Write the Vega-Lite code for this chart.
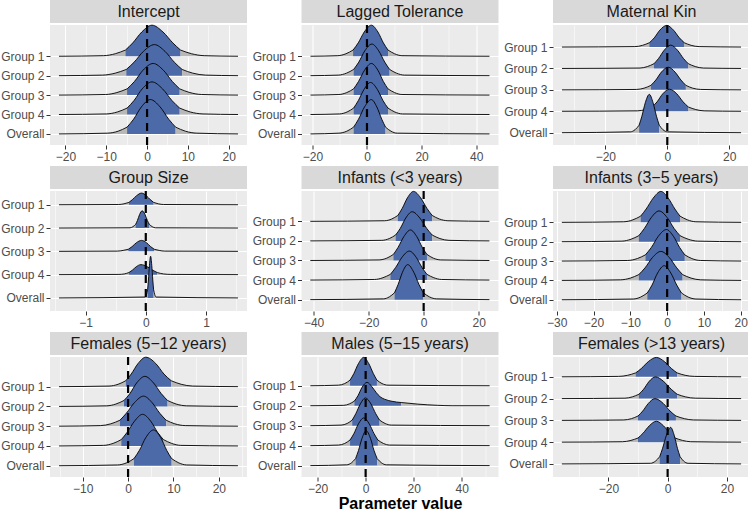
{
"$schema":"https://vega.github.io/schema/vega-lite/v6.json",
"padding":0,
"config":{"font":"Liberation Sans","view":{"fill":"#EBEBEB","stroke":null},
"axis":{"labelFontSize":12,"labelColor":"#4D4D4D","tickColor":"#333333","tickSize":4,"domain":false,"gridColor":"#FFFFFF","labelPadding":2,"labelFlush":false,"labelOverlap":false,"titleFontSize":16,"titleFontWeight":"bold","titleColor":"#000000","titlePadding":1},
"area":{"interpolate":"monotone"},
"line":{"interpolate":"monotone","color":"#000000","strokeWidth":0.9},
"rule":{"strokeDash":[8,6],"strokeWidth":2.2,"color":"#000000"},
"text":{"fontSize":16,"color":"#1A1A1A"}},
"datasets":{
"p1":[
{"k":4,"s":"L","x":-21.6,"y":4},{"k":4,"s":"L","x":-10.7,"y":4.03},{"k":4,"s":"L","x":-7.8,"y":4.13},{"k":4,"s":"L","x":-5.3,"y":4.32},{"k":4,"s":"C","x":-5.3,"y":4.32},{"k":4,"s":"C","x":-3.5,"y":4.69},{"k":4,"s":"C","x":-1.3,"y":5.25},{"k":4,"s":"C","x":1.2,"y":5.6},{"k":4,"s":"C","x":3.9,"y":5.25},{"k":4,"s":"C","x":6.3,"y":4.69},{"k":4,"s":"C","x":8.2,"y":4.32},{"k":4,"s":"R","x":8.2,"y":4.32},{"k":4,"s":"R","x":10.9,"y":4.13},{"k":4,"s":"R","x":14.0,"y":4.03},{"k":4,"s":"R","x":22.3,"y":4},
{"k":3,"s":"L","x":-21.6,"y":3},{"k":3,"s":"L","x":-10.9,"y":3.03},{"k":3,"s":"L","x":-7.8,"y":3.13},{"k":3,"s":"L","x":-5.1,"y":3.32},{"k":3,"s":"C","x":-5.1,"y":3.32},{"k":3,"s":"C","x":-3.2,"y":3.69},{"k":3,"s":"C","x":-0.9,"y":4.25},{"k":3,"s":"C","x":1.8,"y":4.6},{"k":3,"s":"C","x":4.4,"y":4.25},{"k":3,"s":"C","x":6.7,"y":3.69},{"k":3,"s":"C","x":8.6,"y":3.32},{"k":3,"s":"R","x":8.6,"y":3.32},{"k":3,"s":"R","x":11.2,"y":3.13},{"k":3,"s":"R","x":14.3,"y":3.03},{"k":3,"s":"R","x":22.3,"y":3},
{"k":2,"s":"L","x":-21.6,"y":2},{"k":2,"s":"L","x":-10.2,"y":2.03},{"k":2,"s":"L","x":-7.4,"y":2.13},{"k":2,"s":"L","x":-4.9,"y":2.32},{"k":2,"s":"C","x":-4.9,"y":2.32},{"k":2,"s":"C","x":-3.1,"y":2.7},{"k":2,"s":"C","x":-1.0,"y":3.28},{"k":2,"s":"C","x":1.5,"y":3.63},{"k":2,"s":"C","x":4.0,"y":3.28},{"k":2,"s":"C","x":6.2,"y":2.7},{"k":2,"s":"C","x":8.0,"y":2.32},{"k":2,"s":"R","x":8.0,"y":2.32},{"k":2,"s":"R","x":10.5,"y":2.13},{"k":2,"s":"R","x":13.4,"y":2.03},{"k":2,"s":"R","x":22.3,"y":2},
{"k":1,"s":"L","x":-21.6,"y":1},{"k":1,"s":"L","x":-10.0,"y":1.03},{"k":1,"s":"L","x":-7.3,"y":1.13},{"k":1,"s":"L","x":-4.9,"y":1.33},{"k":1,"s":"C","x":-4.9,"y":1.33},{"k":1,"s":"C","x":-3.2,"y":1.72},{"k":1,"s":"C","x":-1.2,"y":2.32},{"k":1,"s":"C","x":1.2,"y":2.68},{"k":1,"s":"C","x":3.8,"y":2.32},{"k":1,"s":"C","x":6.1,"y":1.72},{"k":1,"s":"C","x":8.0,"y":1.33},{"k":1,"s":"R","x":8.0,"y":1.33},{"k":1,"s":"R","x":10.6,"y":1.13},{"k":1,"s":"R","x":13.7,"y":1.03},{"k":1,"s":"R","x":22.3,"y":1},
{"k":0,"s":"L","x":-21.6,"y":0},{"k":0,"s":"L","x":-9.7,"y":0.04},{"k":0,"s":"L","x":-7.1,"y":0.14},{"k":0,"s":"L","x":-4.9,"y":0.35},{"k":0,"s":"C","x":-4.9,"y":0.35},{"k":0,"s":"C","x":-3.3,"y":0.76},{"k":0,"s":"C","x":-1.4,"y":1.39},{"k":0,"s":"C","x":0.8,"y":1.77},{"k":0,"s":"C","x":3.2,"y":1.39},{"k":0,"s":"C","x":5.3,"y":0.76},{"k":0,"s":"C","x":7.0,"y":0.35},{"k":0,"s":"R","x":7.0,"y":0.35},{"k":0,"s":"R","x":9.4,"y":0.14},{"k":0,"s":"R","x":12.2,"y":0.04},{"k":0,"s":"R","x":22.3,"y":0}
],
"p2":[
{"k":4,"s":"L","x":-20.7,"y":4},{"k":4,"s":"L","x":-10.7,"y":4.03},{"k":4,"s":"L","x":-7.7,"y":4.13},{"k":4,"s":"L","x":-5.1,"y":4.32},{"k":4,"s":"C","x":-5.1,"y":4.32},{"k":4,"s":"C","x":-3.2,"y":4.69},{"k":4,"s":"C","x":-1.0,"y":5.25},{"k":4,"s":"C","x":1.6,"y":5.6},{"k":4,"s":"C","x":4.0,"y":5.25},{"k":4,"s":"C","x":6.0,"y":4.69},{"k":4,"s":"C","x":7.7,"y":4.32},{"k":4,"s":"R","x":7.7,"y":4.32},{"k":4,"s":"R","x":10.1,"y":4.13},{"k":4,"s":"R","x":12.8,"y":4.03},{"k":4,"s":"R","x":44.9,"y":4},
{"k":3,"s":"L","x":-20.7,"y":3},{"k":3,"s":"L","x":-10.5,"y":3.03},{"k":3,"s":"L","x":-7.5,"y":3.13},{"k":3,"s":"L","x":-4.9,"y":3.32},{"k":3,"s":"C","x":-4.9,"y":3.32},{"k":3,"s":"C","x":-3.0,"y":3.7},{"k":3,"s":"C","x":-0.8,"y":4.28},{"k":3,"s":"C","x":1.8,"y":4.63},{"k":3,"s":"C","x":4.3,"y":4.28},{"k":3,"s":"C","x":6.5,"y":3.7},{"k":3,"s":"C","x":8.3,"y":3.32},{"k":3,"s":"R","x":8.3,"y":3.32},{"k":3,"s":"R","x":10.8,"y":3.13},{"k":3,"s":"R","x":13.7,"y":3.03},{"k":3,"s":"R","x":44.9,"y":3},
{"k":2,"s":"L","x":-20.7,"y":2},{"k":2,"s":"L","x":-10.3,"y":2.03},{"k":2,"s":"L","x":-7.4,"y":2.13},{"k":2,"s":"L","x":-4.9,"y":2.32},{"k":2,"s":"C","x":-4.9,"y":2.32},{"k":2,"s":"C","x":-3.1,"y":2.7},{"k":2,"s":"C","x":-0.9,"y":3.28},{"k":2,"s":"C","x":1.6,"y":3.63},{"k":2,"s":"C","x":4.0,"y":3.28},{"k":2,"s":"C","x":6.0,"y":2.7},{"k":2,"s":"C","x":7.7,"y":2.32},{"k":2,"s":"R","x":7.7,"y":2.32},{"k":2,"s":"R","x":10.1,"y":2.13},{"k":2,"s":"R","x":12.8,"y":2.03},{"k":2,"s":"R","x":44.9,"y":2},
{"k":1,"s":"L","x":-20.7,"y":1},{"k":1,"s":"L","x":-10.1,"y":1.03},{"k":1,"s":"L","x":-7.3,"y":1.13},{"k":1,"s":"L","x":-4.9,"y":1.33},{"k":1,"s":"C","x":-4.9,"y":1.33},{"k":1,"s":"C","x":-3.2,"y":1.71},{"k":1,"s":"C","x":-1.1,"y":2.29},{"k":1,"s":"C","x":1.3,"y":2.65},{"k":1,"s":"C","x":3.8,"y":2.29},{"k":1,"s":"C","x":5.9,"y":1.71},{"k":1,"s":"C","x":7.7,"y":1.33},{"k":1,"s":"R","x":7.7,"y":1.33},{"k":1,"s":"R","x":10.2,"y":1.13},{"k":1,"s":"R","x":13.0,"y":1.03},{"k":1,"s":"R","x":44.9,"y":1},
{"k":0,"s":"L","x":-20.7,"y":0},{"k":0,"s":"L","x":-10.3,"y":0.04},{"k":0,"s":"L","x":-7.4,"y":0.14},{"k":0,"s":"L","x":-4.9,"y":0.35},{"k":0,"s":"C","x":-4.9,"y":0.35},{"k":0,"s":"C","x":-3.1,"y":0.76},{"k":0,"s":"C","x":-0.9,"y":1.39},{"k":0,"s":"C","x":1.6,"y":1.77},{"k":0,"s":"C","x":3.6,"y":1.39},{"k":0,"s":"C","x":5.4,"y":0.76},{"k":0,"s":"C","x":6.8,"y":0.35},{"k":0,"s":"R","x":6.8,"y":0.35},{"k":0,"s":"R","x":8.8,"y":0.14},{"k":0,"s":"R","x":11.1,"y":0.04},{"k":0,"s":"R","x":44.9,"y":0}
],
"p3":[
{"k":4,"s":"L","x":-34.0,"y":4},{"k":4,"s":"L","x":-10.5,"y":4.02},{"k":4,"s":"L","x":-8.0,"y":4.08},{"k":4,"s":"L","x":-5.8,"y":4.2},{"k":4,"s":"C","x":-5.8,"y":4.2},{"k":4,"s":"C","x":-4.2,"y":4.43},{"k":4,"s":"C","x":-2.4,"y":4.79},{"k":4,"s":"C","x":-0.2,"y":5.01},{"k":4,"s":"C","x":2.0,"y":4.79},{"k":4,"s":"C","x":3.9,"y":4.43},{"k":4,"s":"C","x":5.5,"y":4.2},{"k":4,"s":"R","x":5.5,"y":4.2},{"k":4,"s":"R","x":7.7,"y":4.08},{"k":4,"s":"R","x":10.3,"y":4.02},{"k":4,"s":"R","x":23.8,"y":4},
{"k":3,"s":"L","x":-34.0,"y":3},{"k":3,"s":"L","x":-8.8,"y":3.02},{"k":3,"s":"L","x":-6.4,"y":3.09},{"k":3,"s":"L","x":-4.3,"y":3.22},{"k":3,"s":"C","x":-4.3,"y":3.22},{"k":3,"s":"C","x":-2.8,"y":3.47},{"k":3,"s":"C","x":-1.0,"y":3.85},{"k":3,"s":"C","x":1.1,"y":4.09},{"k":3,"s":"C","x":3.3,"y":3.85},{"k":3,"s":"C","x":5.2,"y":3.47},{"k":3,"s":"C","x":6.8,"y":3.22},{"k":3,"s":"R","x":6.8,"y":3.22},{"k":3,"s":"R","x":9.0,"y":3.09},{"k":3,"s":"R","x":11.6,"y":3.02},{"k":3,"s":"R","x":23.8,"y":3},
{"k":2,"s":"L","x":-34.0,"y":2},{"k":2,"s":"L","x":-10.0,"y":2.02},{"k":2,"s":"L","x":-7.5,"y":2.08},{"k":2,"s":"L","x":-5.3,"y":2.21},{"k":2,"s":"C","x":-5.3,"y":2.21},{"k":2,"s":"C","x":-3.7,"y":2.46},{"k":2,"s":"C","x":-1.9,"y":2.83},{"k":2,"s":"C","x":0.3,"y":3.06},{"k":2,"s":"C","x":2.5,"y":2.83},{"k":2,"s":"C","x":4.4,"y":2.46},{"k":2,"s":"C","x":6.0,"y":2.21},{"k":2,"s":"R","x":6.0,"y":2.21},{"k":2,"s":"R","x":8.2,"y":2.08},{"k":2,"s":"R","x":10.8,"y":2.02},{"k":2,"s":"R","x":23.8,"y":2},
{"k":1,"s":"L","x":-34.0,"y":1},{"k":1,"s":"L","x":-9.6,"y":1.02},{"k":1,"s":"L","x":-7.1,"y":1.08},{"k":1,"s":"L","x":-4.9,"y":1.2},{"k":1,"s":"C","x":-4.9,"y":1.2},{"k":1,"s":"C","x":-3.3,"y":1.44},{"k":1,"s":"C","x":-1.5,"y":1.81},{"k":1,"s":"C","x":0.7,"y":2.03},{"k":1,"s":"C","x":3.1,"y":1.81},{"k":1,"s":"C","x":5.1,"y":1.44},{"k":1,"s":"C","x":6.8,"y":1.2},{"k":1,"s":"R","x":6.8,"y":1.2},{"k":1,"s":"R","x":9.2,"y":1.08},{"k":1,"s":"R","x":11.9,"y":1.02},{"k":1,"s":"R","x":23.8,"y":1},
{"k":0,"s":"L","x":-34.0,"y":0},{"k":0,"s":"L","x":-11.9,"y":0.04},{"k":0,"s":"L","x":-10.4,"y":0.14},{"k":0,"s":"L","x":-9.1,"y":0.35},{"k":0,"s":"C","x":-9.1,"y":0.35},{"k":0,"s":"C","x":-8.2,"y":0.77},{"k":0,"s":"C","x":-7.1,"y":1.4},{"k":0,"s":"C","x":-5.8,"y":1.79},{"k":0,"s":"C","x":-4.6,"y":1.4},{"k":0,"s":"C","x":-3.5,"y":0.77},{"k":0,"s":"C","x":-2.6,"y":0.35},{"k":0,"s":"R","x":-2.6,"y":0.35},{"k":0,"s":"R","x":-1.4,"y":0.14},{"k":0,"s":"R","x":0.1,"y":0.04},{"k":0,"s":"R","x":23.8,"y":0}
],
"p4":[
{"k":4,"s":"L","x":-1.44,"y":4},{"k":4,"s":"L","x":-0.455,"y":4.01},{"k":4,"s":"L","x":-0.362,"y":4.04},{"k":4,"s":"L","x":-0.28,"y":4.1},{"k":4,"s":"C","x":-0.28,"y":4.1},{"k":4,"s":"C","x":-0.222,"y":4.22},{"k":4,"s":"C","x":-0.152,"y":4.39},{"k":4,"s":"C","x":-0.07,"y":4.5},{"k":4,"s":"C","x":0.008,"y":4.39},{"k":4,"s":"C","x":0.074,"y":4.22},{"k":4,"s":"C","x":0.13,"y":4.1},{"k":4,"s":"R","x":0.13,"y":4.1},{"k":4,"s":"R","x":0.208,"y":4.04},{"k":4,"s":"R","x":0.297,"y":4.01},{"k":4,"s":"R","x":1.53,"y":4},
{"k":3,"s":"L","x":-1.44,"y":3},{"k":3,"s":"L","x":-0.262,"y":3.01},{"k":3,"s":"L","x":-0.213,"y":3.06},{"k":3,"s":"L","x":-0.17,"y":3.15},{"k":3,"s":"C","x":-0.17,"y":3.15},{"k":3,"s":"C","x":-0.139,"y":3.32},{"k":3,"s":"C","x":-0.103,"y":3.58},{"k":3,"s":"C","x":-0.06,"y":3.74},{"k":3,"s":"C","x":-0.013,"y":3.58},{"k":3,"s":"C","x":0.027,"y":3.32},{"k":3,"s":"C","x":0.06,"y":3.15},{"k":3,"s":"R","x":0.06,"y":3.15},{"k":3,"s":"R","x":0.107,"y":3.06},{"k":3,"s":"R","x":0.16,"y":3.01},{"k":3,"s":"R","x":1.53,"y":3},
{"k":2,"s":"L","x":-1.44,"y":2},{"k":2,"s":"L","x":-0.473,"y":2.01},{"k":2,"s":"L","x":-0.376,"y":2.04},{"k":2,"s":"L","x":-0.29,"y":2.09},{"k":2,"s":"C","x":-0.29,"y":2.09},{"k":2,"s":"C","x":-0.229,"y":2.2},{"k":2,"s":"C","x":-0.156,"y":2.37},{"k":2,"s":"C","x":-0.07,"y":2.47},{"k":2,"s":"C","x":0.012,"y":2.37},{"k":2,"s":"C","x":0.082,"y":2.2},{"k":2,"s":"C","x":0.14,"y":2.09},{"k":2,"s":"R","x":0.14,"y":2.09},{"k":2,"s":"R","x":0.222,"y":2.04},{"k":2,"s":"R","x":0.315,"y":2.01},{"k":2,"s":"R","x":1.53,"y":2},
{"k":1,"s":"L","x":-1.44,"y":1},{"k":1,"s":"L","x":-0.447,"y":1.01},{"k":1,"s":"L","x":-0.358,"y":1.03},{"k":1,"s":"L","x":-0.28,"y":1.09},{"k":1,"s":"C","x":-0.28,"y":1.09},{"k":1,"s":"C","x":-0.224,"y":1.19},{"k":1,"s":"C","x":-0.158,"y":1.34},{"k":1,"s":"C","x":-0.08,"y":1.43},{"k":1,"s":"C","x":0.025,"y":1.34},{"k":1,"s":"C","x":0.115,"y":1.19},{"k":1,"s":"C","x":0.19,"y":1.09},{"k":1,"s":"R","x":0.19,"y":1.09},{"k":1,"s":"R","x":0.295,"y":1.03},{"k":1,"s":"R","x":0.415,"y":1.01},{"k":1,"s":"R","x":1.53,"y":1},
{"k":0,"s":"L","x":-1.44,"y":0},{"k":0,"s":"L","x":-0.012,"y":0.04},{"k":0,"s":"L","x":0.011,"y":0.14},{"k":0,"s":"L","x":0.03,"y":0.35},{"k":0,"s":"C","x":0.03,"y":0.35},{"k":0,"s":"C","x":0.044,"y":0.77},{"k":0,"s":"C","x":0.061,"y":1.4},{"k":0,"s":"C","x":0.08,"y":1.79},{"k":0,"s":"C","x":0.099,"y":1.4},{"k":0,"s":"C","x":0.116,"y":0.77},{"k":0,"s":"C","x":0.13,"y":0.35},{"k":0,"s":"R","x":0.13,"y":0.35},{"k":0,"s":"R","x":0.149,"y":0.14},{"k":0,"s":"R","x":0.172,"y":0.04},{"k":0,"s":"R","x":1.53,"y":0}
],
"p5":[
{"k":4,"s":"L","x":-41.2,"y":4},{"k":4,"s":"L","x":-14.2,"y":4.03},{"k":4,"s":"L","x":-11.6,"y":4.12},{"k":4,"s":"L","x":-9.4,"y":4.3},{"k":4,"s":"C","x":-9.4,"y":4.3},{"k":4,"s":"C","x":-7.8,"y":4.66},{"k":4,"s":"C","x":-5.9,"y":5.2},{"k":4,"s":"C","x":-3.7,"y":5.53},{"k":4,"s":"C","x":-1.1,"y":5.2},{"k":4,"s":"C","x":1.2,"y":4.66},{"k":4,"s":"C","x":3.1,"y":4.3},{"k":4,"s":"R","x":3.1,"y":4.3},{"k":4,"s":"R","x":5.7,"y":4.12},{"k":4,"s":"R","x":8.8,"y":4.03},{"k":4,"s":"R","x":23.9,"y":4},
{"k":3,"s":"L","x":-41.2,"y":3},{"k":3,"s":"L","x":-15.2,"y":3.03},{"k":3,"s":"L","x":-12.5,"y":3.12},{"k":3,"s":"L","x":-10.2,"y":3.3},{"k":3,"s":"C","x":-10.2,"y":3.3},{"k":3,"s":"C","x":-8.5,"y":3.64},{"k":3,"s":"C","x":-6.5,"y":4.17},{"k":3,"s":"C","x":-4.2,"y":4.49},{"k":3,"s":"C","x":-1.4,"y":4.17},{"k":3,"s":"C","x":1.1,"y":3.64},{"k":3,"s":"C","x":3.1,"y":3.3},{"k":3,"s":"R","x":3.1,"y":3.3},{"k":3,"s":"R","x":5.9,"y":3.12},{"k":3,"s":"R","x":9.2,"y":3.03},{"k":3,"s":"R","x":23.9,"y":3},
{"k":2,"s":"L","x":-41.2,"y":2},{"k":2,"s":"L","x":-16.2,"y":2.03},{"k":2,"s":"L","x":-13.4,"y":2.12},{"k":2,"s":"L","x":-11.0,"y":2.31},{"k":2,"s":"C","x":-11.0,"y":2.31},{"k":2,"s":"C","x":-9.3,"y":2.67},{"k":2,"s":"C","x":-7.2,"y":3.22},{"k":2,"s":"C","x":-4.8,"y":3.56},{"k":2,"s":"C","x":-2.5,"y":3.22},{"k":2,"s":"C","x":-0.5,"y":2.67},{"k":2,"s":"C","x":1.2,"y":2.31},{"k":2,"s":"R","x":1.2,"y":2.31},{"k":2,"s":"R","x":3.5,"y":2.12},{"k":2,"s":"R","x":6.2,"y":2.03},{"k":2,"s":"R","x":23.9,"y":2},
{"k":1,"s":"L","x":-41.2,"y":1},{"k":1,"s":"L","x":-17.9,"y":1.03},{"k":1,"s":"L","x":-14.8,"y":1.12},{"k":1,"s":"L","x":-12.1,"y":1.29},{"k":1,"s":"C","x":-12.1,"y":1.29},{"k":1,"s":"C","x":-10.2,"y":1.64},{"k":1,"s":"C","x":-7.9,"y":2.16},{"k":1,"s":"C","x":-5.2,"y":2.48},{"k":1,"s":"C","x":-2.7,"y":2.16},{"k":1,"s":"C","x":-0.6,"y":1.64},{"k":1,"s":"C","x":1.2,"y":1.29},{"k":1,"s":"R","x":1.2,"y":1.29},{"k":1,"s":"R","x":3.7,"y":1.12},{"k":1,"s":"R","x":6.5,"y":1.03},{"k":1,"s":"R","x":23.9,"y":1},
{"k":0,"s":"L","x":-41.2,"y":0},{"k":0,"s":"L","x":-14.6,"y":0.04},{"k":0,"s":"L","x":-12.5,"y":0.14},{"k":0,"s":"L","x":-10.6,"y":0.35},{"k":0,"s":"C","x":-10.6,"y":0.35},{"k":0,"s":"C","x":-9.3,"y":0.77},{"k":0,"s":"C","x":-7.7,"y":1.4},{"k":0,"s":"C","x":-5.8,"y":1.79},{"k":0,"s":"C","x":-3.6,"y":1.4},{"k":0,"s":"C","x":-1.7,"y":0.77},{"k":0,"s":"C","x":-0.1,"y":0.35},{"k":0,"s":"R","x":-0.1,"y":0.35},{"k":0,"s":"R","x":2.1,"y":0.14},{"k":0,"s":"R","x":4.7,"y":0.04},{"k":0,"s":"R","x":23.9,"y":0}
],
"p6":[
{"k":4,"s":"L","x":-28.6,"y":4},{"k":4,"s":"L","x":-11.8,"y":4.03},{"k":4,"s":"L","x":-9.3,"y":4.13},{"k":4,"s":"L","x":-7.2,"y":4.32},{"k":4,"s":"C","x":-7.2,"y":4.32},{"k":4,"s":"C","x":-5.7,"y":4.69},{"k":4,"s":"C","x":-3.8,"y":5.25},{"k":4,"s":"C","x":-1.7,"y":5.6},{"k":4,"s":"C","x":0.3,"y":5.25},{"k":4,"s":"C","x":2.1,"y":4.69},{"k":4,"s":"C","x":3.5,"y":4.32},{"k":4,"s":"R","x":3.5,"y":4.32},{"k":4,"s":"R","x":5.5,"y":4.13},{"k":4,"s":"R","x":7.8,"y":4.03},{"k":4,"s":"R","x":20.1,"y":4},
{"k":3,"s":"L","x":-28.6,"y":3},{"k":3,"s":"L","x":-12.3,"y":3.03},{"k":3,"s":"L","x":-9.8,"y":3.13},{"k":3,"s":"L","x":-7.7,"y":3.31},{"k":3,"s":"C","x":-7.7,"y":3.31},{"k":3,"s":"C","x":-6.2,"y":3.68},{"k":3,"s":"C","x":-4.3,"y":4.25},{"k":3,"s":"C","x":-2.2,"y":4.59},{"k":3,"s":"C","x":0.0,"y":4.25},{"k":3,"s":"C","x":1.9,"y":3.68},{"k":3,"s":"C","x":3.5,"y":3.31},{"k":3,"s":"R","x":3.5,"y":3.31},{"k":3,"s":"R","x":5.7,"y":3.13},{"k":3,"s":"R","x":8.3,"y":3.03},{"k":3,"s":"R","x":20.1,"y":3},
{"k":2,"s":"L","x":-28.6,"y":2},{"k":2,"s":"L","x":-10.7,"y":2.03},{"k":2,"s":"L","x":-8.1,"y":2.13},{"k":2,"s":"L","x":-5.9,"y":2.32},{"k":2,"s":"C","x":-5.9,"y":2.32},{"k":2,"s":"C","x":-4.3,"y":2.7},{"k":2,"s":"C","x":-2.4,"y":3.28},{"k":2,"s":"C","x":-0.2,"y":3.63},{"k":2,"s":"C","x":1.7,"y":3.28},{"k":2,"s":"C","x":3.4,"y":2.7},{"k":2,"s":"C","x":4.8,"y":2.32},{"k":2,"s":"R","x":4.8,"y":2.32},{"k":2,"s":"R","x":6.7,"y":2.13},{"k":2,"s":"R","x":9.0,"y":2.03},{"k":2,"s":"R","x":20.1,"y":2},
{"k":1,"s":"L","x":-28.6,"y":1},{"k":1,"s":"L","x":-12.7,"y":1.03},{"k":1,"s":"L","x":-10.0,"y":1.12},{"k":1,"s":"L","x":-7.7,"y":1.3},{"k":1,"s":"C","x":-7.7,"y":1.3},{"k":1,"s":"C","x":-6.0,"y":1.65},{"k":1,"s":"C","x":-4.0,"y":2.18},{"k":1,"s":"C","x":-1.7,"y":2.5},{"k":1,"s":"C","x":0.6,"y":2.18},{"k":1,"s":"C","x":2.6,"y":1.65},{"k":1,"s":"C","x":4.2,"y":1.3},{"k":1,"s":"R","x":4.2,"y":1.3},{"k":1,"s":"R","x":6.5,"y":1.12},{"k":1,"s":"R","x":9.1,"y":1.03},{"k":1,"s":"R","x":20.1,"y":1},
{"k":0,"s":"L","x":-28.6,"y":0},{"k":0,"s":"L","x":-9.2,"y":0.04},{"k":0,"s":"L","x":-7.2,"y":0.14},{"k":0,"s":"L","x":-5.4,"y":0.35},{"k":0,"s":"C","x":-5.4,"y":0.35},{"k":0,"s":"C","x":-4.1,"y":0.76},{"k":0,"s":"C","x":-2.6,"y":1.38},{"k":0,"s":"C","x":-0.8,"y":1.76},{"k":0,"s":"C","x":1.0,"y":1.38},{"k":0,"s":"C","x":2.6,"y":0.76},{"k":0,"s":"C","x":3.9,"y":0.35},{"k":0,"s":"R","x":3.9,"y":0.35},{"k":0,"s":"R","x":5.7,"y":0.14},{"k":0,"s":"R","x":7.8,"y":0.04},{"k":0,"s":"R","x":20.1,"y":0}
],
"p7":[
{"k":4,"s":"L","x":-15.2,"y":4},{"k":4,"s":"L","x":-4.2,"y":4.03},{"k":4,"s":"L","x":-2.2,"y":4.12},{"k":4,"s":"L","x":-0.5,"y":4.3},{"k":4,"s":"C","x":-0.5,"y":4.3},{"k":4,"s":"C","x":0.7,"y":4.64},{"k":4,"s":"C","x":2.2,"y":5.17},{"k":4,"s":"C","x":3.9,"y":5.49},{"k":4,"s":"C","x":6.1,"y":5.17},{"k":4,"s":"C","x":7.9,"y":4.64},{"k":4,"s":"C","x":9.5,"y":4.3},{"k":4,"s":"R","x":9.5,"y":4.3},{"k":4,"s":"R","x":11.7,"y":4.12},{"k":4,"s":"R","x":14.2,"y":4.03},{"k":4,"s":"R","x":24.2,"y":4},
{"k":3,"s":"L","x":-15.2,"y":3},{"k":3,"s":"L","x":-4.7,"y":3.03},{"k":3,"s":"L","x":-2.7,"y":3.12},{"k":3,"s":"L","x":-0.9,"y":3.3},{"k":3,"s":"C","x":-0.9,"y":3.3},{"k":3,"s":"C","x":0.4,"y":3.65},{"k":3,"s":"C","x":1.9,"y":4.19},{"k":3,"s":"C","x":3.7,"y":4.52},{"k":3,"s":"C","x":5.6,"y":4.19},{"k":3,"s":"C","x":7.3,"y":3.65},{"k":3,"s":"C","x":8.7,"y":3.3},{"k":3,"s":"R","x":8.7,"y":3.3},{"k":3,"s":"R","x":10.6,"y":3.12},{"k":3,"s":"R","x":12.9,"y":3.03},{"k":3,"s":"R","x":24.2,"y":3},
{"k":2,"s":"L","x":-15.2,"y":2},{"k":2,"s":"L","x":-6.1,"y":2.03},{"k":2,"s":"L","x":-3.8,"y":2.12},{"k":2,"s":"L","x":-1.8,"y":2.3},{"k":2,"s":"C","x":-1.8,"y":2.3},{"k":2,"s":"C","x":-0.4,"y":2.65},{"k":2,"s":"C","x":1.4,"y":3.19},{"k":2,"s":"C","x":3.4,"y":3.52},{"k":2,"s":"C","x":5.3,"y":3.19},{"k":2,"s":"C","x":7.0,"y":2.65},{"k":2,"s":"C","x":8.4,"y":2.3},{"k":2,"s":"R","x":8.4,"y":2.3},{"k":2,"s":"R","x":10.3,"y":2.12},{"k":2,"s":"R","x":12.6,"y":2.03},{"k":2,"s":"R","x":24.2,"y":2},
{"k":1,"s":"L","x":-15.2,"y":1},{"k":1,"s":"L","x":-5.4,"y":1.03},{"k":1,"s":"L","x":-3.3,"y":1.13},{"k":1,"s":"L","x":-1.5,"y":1.32},{"k":1,"s":"C","x":-1.5,"y":1.32},{"k":1,"s":"C","x":-0.2,"y":1.69},{"k":1,"s":"C","x":1.4,"y":2.25},{"k":1,"s":"C","x":3.2,"y":2.6},{"k":1,"s":"C","x":5.0,"y":2.25},{"k":1,"s":"C","x":6.5,"y":1.69},{"k":1,"s":"C","x":7.8,"y":1.32},{"k":1,"s":"R","x":7.8,"y":1.32},{"k":1,"s":"R","x":9.6,"y":1.13},{"k":1,"s":"R","x":11.6,"y":1.03},{"k":1,"s":"R","x":24.2,"y":1},
{"k":0,"s":"L","x":-15.2,"y":0},{"k":0,"s":"L","x":-2.3,"y":0.04},{"k":0,"s":"L","x":-0.4,"y":0.14},{"k":0,"s":"L","x":1.3,"y":0.36},{"k":0,"s":"C","x":1.3,"y":0.36},{"k":0,"s":"C","x":2.5,"y":0.78},{"k":0,"s":"C","x":3.9,"y":1.42},{"k":0,"s":"C","x":5.6,"y":1.81},{"k":0,"s":"C","x":7.2,"y":1.42},{"k":0,"s":"C","x":8.5,"y":0.78},{"k":0,"s":"C","x":9.6,"y":0.36},{"k":0,"s":"R","x":9.6,"y":0.36},{"k":0,"s":"R","x":11.2,"y":0.14},{"k":0,"s":"R","x":12.9,"y":0.04},{"k":0,"s":"R","x":24.2,"y":0}
],
"p8":[
{"k":4,"s":"L","x":-23.0,"y":4},{"k":4,"s":"L","x":-11.3,"y":4.03},{"k":4,"s":"L","x":-8.7,"y":4.11},{"k":4,"s":"L","x":-6.5,"y":4.28},{"k":4,"s":"C","x":-6.5,"y":4.28},{"k":4,"s":"C","x":-4.9,"y":4.61},{"k":4,"s":"C","x":-3.0,"y":5.11},{"k":4,"s":"C","x":-0.8,"y":5.42},{"k":4,"s":"C","x":1.3,"y":5.11},{"k":4,"s":"C","x":3.2,"y":4.61},{"k":4,"s":"C","x":4.7,"y":4.28},{"k":4,"s":"R","x":4.7,"y":4.28},{"k":4,"s":"R","x":6.8,"y":4.11},{"k":4,"s":"R","x":9.3,"y":4.03},{"k":4,"s":"R","x":51.6,"y":4},
{"k":3,"s":"L","x":-23.0,"y":3},{"k":3,"s":"L","x":-9.1,"y":3.02},{"k":3,"s":"L","x":-6.8,"y":3.09},{"k":3,"s":"L","x":-4.7,"y":3.23},{"k":3,"s":"C","x":-4.7,"y":3.23},{"k":3,"s":"C","x":-3.2,"y":3.5},{"k":3,"s":"C","x":-1.5,"y":3.92},{"k":3,"s":"C","x":0.6,"y":4.17},{"k":3,"s":"C","x":2.6,"y":3.95},{"k":3,"s":"C","x":4.4,"y":3.66},{"k":3,"s":"C","x":6.0,"y":3.45},{"k":3,"s":"C","x":7.8,"y":3.33},{"k":3,"s":"C","x":11.0,"y":3.22},{"k":3,"s":"C","x":14.8,"y":3.16},{"k":3,"s":"R","x":14.8,"y":3.16},{"k":3,"s":"R","x":21.7,"y":3.08},{"k":3,"s":"R","x":30.0,"y":3.02},{"k":3,"s":"R","x":36.0,"y":3},{"k":3,"s":"R","x":51.6,"y":3},
{"k":2,"s":"L","x":-23.0,"y":2},{"k":2,"s":"L","x":-10.2,"y":2.03},{"k":2,"s":"L","x":-7.7,"y":2.11},{"k":2,"s":"L","x":-5.6,"y":2.28},{"k":2,"s":"C","x":-5.6,"y":2.28},{"k":2,"s":"C","x":-4.1,"y":2.6},{"k":2,"s":"C","x":-2.2,"y":3.09},{"k":2,"s":"C","x":-0.1,"y":3.39},{"k":2,"s":"C","x":2.2,"y":3.09},{"k":2,"s":"C","x":4.2,"y":2.6},{"k":2,"s":"C","x":5.8,"y":2.28},{"k":2,"s":"R","x":5.8,"y":2.28},{"k":2,"s":"R","x":8.1,"y":2.11},{"k":2,"s":"R","x":10.7,"y":2.03},{"k":2,"s":"R","x":51.6,"y":2},
{"k":1,"s":"L","x":-23.0,"y":1},{"k":1,"s":"L","x":-11.3,"y":1.03},{"k":1,"s":"L","x":-8.7,"y":1.11},{"k":1,"s":"L","x":-6.5,"y":1.28},{"k":1,"s":"C","x":-6.5,"y":1.28},{"k":1,"s":"C","x":-4.9,"y":1.6},{"k":1,"s":"C","x":-3.0,"y":2.09},{"k":1,"s":"C","x":-0.8,"y":2.39},{"k":1,"s":"C","x":1.5,"y":2.09},{"k":1,"s":"C","x":3.5,"y":1.6},{"k":1,"s":"C","x":5.1,"y":1.28},{"k":1,"s":"R","x":5.1,"y":1.28},{"k":1,"s":"R","x":7.4,"y":1.11},{"k":1,"s":"R","x":10.0,"y":1.03},{"k":1,"s":"R","x":51.6,"y":1},
{"k":0,"s":"L","x":-23.0,"y":0},{"k":0,"s":"L","x":-7.9,"y":0.04},{"k":0,"s":"L","x":-5.9,"y":0.14},{"k":0,"s":"L","x":-4.2,"y":0.35},{"k":0,"s":"C","x":-4.2,"y":0.35},{"k":0,"s":"C","x":-3.0,"y":0.75},{"k":0,"s":"C","x":-1.5,"y":1.37},{"k":0,"s":"C","x":0.2,"y":1.75},{"k":0,"s":"C","x":2.0,"y":1.37},{"k":0,"s":"C","x":3.5,"y":0.75},{"k":0,"s":"C","x":4.8,"y":0.35},{"k":0,"s":"R","x":4.8,"y":0.35},{"k":0,"s":"R","x":6.6,"y":0.14},{"k":0,"s":"R","x":8.6,"y":0.04},{"k":0,"s":"R","x":51.6,"y":0}
],
"p9":[
{"k":4,"s":"L","x":-35.7,"y":4},{"k":4,"s":"L","x":-16.6,"y":4.02},{"k":4,"s":"L","x":-13.5,"y":4.07},{"k":4,"s":"L","x":-10.8,"y":4.18},{"k":4,"s":"C","x":-10.8,"y":4.18},{"k":4,"s":"C","x":-8.9,"y":4.38},{"k":4,"s":"C","x":-6.5,"y":4.7},{"k":4,"s":"C","x":-3.8,"y":4.89},{"k":4,"s":"C","x":-1.1,"y":4.7},{"k":4,"s":"C","x":1.3,"y":4.38},{"k":4,"s":"C","x":3.2,"y":4.18},{"k":4,"s":"R","x":3.2,"y":4.18},{"k":4,"s":"R","x":5.9,"y":4.07},{"k":4,"s":"R","x":9.0,"y":4.02},{"k":4,"s":"R","x":24.8,"y":4},
{"k":3,"s":"L","x":-35.7,"y":3},{"k":3,"s":"L","x":-14.4,"y":3.02},{"k":3,"s":"L","x":-11.9,"y":3.08},{"k":3,"s":"L","x":-9.7,"y":3.2},{"k":3,"s":"C","x":-9.7,"y":3.2},{"k":3,"s":"C","x":-8.1,"y":3.43},{"k":3,"s":"C","x":-6.3,"y":3.78},{"k":3,"s":"C","x":-4.1,"y":4.0},{"k":3,"s":"C","x":-1.3,"y":3.78},{"k":3,"s":"C","x":1.2,"y":3.43},{"k":3,"s":"C","x":3.2,"y":3.2},{"k":3,"s":"R","x":3.2,"y":3.2},{"k":3,"s":"R","x":6.0,"y":3.08},{"k":3,"s":"R","x":9.3,"y":3.02},{"k":3,"s":"R","x":24.8,"y":3},
{"k":2,"s":"L","x":-35.7,"y":2},{"k":2,"s":"L","x":-14.8,"y":2.02},{"k":2,"s":"L","x":-12.2,"y":2.08},{"k":2,"s":"L","x":-10.0,"y":2.2},{"k":2,"s":"C","x":-10.0,"y":2.2},{"k":2,"s":"C","x":-8.4,"y":2.43},{"k":2,"s":"C","x":-6.5,"y":2.78},{"k":2,"s":"C","x":-4.3,"y":3.0},{"k":2,"s":"C","x":-1.5,"y":2.78},{"k":2,"s":"C","x":0.8,"y":2.43},{"k":2,"s":"C","x":2.8,"y":2.2},{"k":2,"s":"R","x":2.8,"y":2.2},{"k":2,"s":"R","x":5.6,"y":2.08},{"k":2,"s":"R","x":8.7,"y":2.02},{"k":2,"s":"R","x":24.8,"y":2},
{"k":1,"s":"L","x":-35.7,"y":1},{"k":1,"s":"L","x":-15.2,"y":1.02},{"k":1,"s":"L","x":-12.4,"y":1.08},{"k":1,"s":"L","x":-10.0,"y":1.19},{"k":1,"s":"C","x":-10.0,"y":1.19},{"k":1,"s":"C","x":-8.3,"y":1.41},{"k":1,"s":"C","x":-6.2,"y":1.75},{"k":1,"s":"C","x":-3.8,"y":1.96},{"k":1,"s":"C","x":-1.4,"y":1.75},{"k":1,"s":"C","x":0.8,"y":1.41},{"k":1,"s":"C","x":2.5,"y":1.19},{"k":1,"s":"R","x":2.5,"y":1.19},{"k":1,"s":"R","x":5.0,"y":1.08},{"k":1,"s":"R","x":7.8,"y":1.02},{"k":1,"s":"R","x":24.8,"y":1},
{"k":0,"s":"L","x":-35.7,"y":0},{"k":0,"s":"L","x":-5.8,"y":0.03},{"k":0,"s":"L","x":-4.1,"y":0.13},{"k":0,"s":"L","x":-2.7,"y":0.33},{"k":0,"s":"C","x":-2.7,"y":0.33},{"k":0,"s":"C","x":-1.7,"y":0.72},{"k":0,"s":"C","x":-0.4,"y":1.32},{"k":0,"s":"C","x":1.0,"y":1.68},{"k":0,"s":"C","x":2.2,"y":1.32},{"k":0,"s":"C","x":3.3,"y":0.72},{"k":0,"s":"C","x":4.2,"y":0.33},{"k":0,"s":"R","x":4.2,"y":0.33},{"k":0,"s":"R","x":5.4,"y":0.13},{"k":0,"s":"R","x":6.9,"y":0.03},{"k":0,"s":"R","x":24.8,"y":0}
]
},
"columns":3,
"spacing":{"row":4,"column":4.5},
"resolve":{"scale":{"x":"independent","y":"independent","fill":"independent"}},
"concat":[
{"spacing":0,"vconcat":[
 {"width":197,"height":23,"view":{"fill":"#D9D9D9"},"data":{"values":[{"t":"Intercept"}]},"mark":"text","encoding":{"text":{"field":"t","type":"nominal"}}},
 {"width":197,"height":120,"resolve":{"axis":{"x":"independent"}},"layer":[
  {"data":{"name":"p1"},"encoding":{"x":{"field":"x","type":"quantitative","scale":{"domain":[-23.8,24.5],"nice":false,"zero":false},"axis":{"values":[-20,-10,0,10,20],"grid":true,"gridWidth":1.1,"title":null}},"y":{"field":"y","type":"quantitative","scale":{"domain":[-0.57,5.61],"nice":false,"zero":false},"axis":{"values":[0,1,2,3,4],"labelExpr":"['Overall','Group 4','Group 3','Group 2','Group 1'][datum.value]","grid":true,"gridWidth":1.1,"title":null}}},
   "layer":[
    {"transform":[{"filter":"datum.k==4"}],"layer":[{"mark":"area","encoding":{"y2":{"datum":4},"fill":{"field":"s","type":"nominal","scale":{"domain":["L","C","R"],"range":["#B8B8B8","#4D6AA8","#B8B8B8"]},"legend":null}}},{"mark":"line","encoding":{"detail":{"field":"s","type":"nominal"}}}]},
    {"transform":[{"filter":"datum.k==3"}],"layer":[{"mark":"area","encoding":{"y2":{"datum":3},"fill":{"field":"s","type":"nominal","scale":{"domain":["L","C","R"],"range":["#B8B8B8","#4D6AA8","#B8B8B8"]},"legend":null}}},{"mark":"line","encoding":{"detail":{"field":"s","type":"nominal"}}}]},
    {"transform":[{"filter":"datum.k==2"}],"layer":[{"mark":"area","encoding":{"y2":{"datum":2},"fill":{"field":"s","type":"nominal","scale":{"domain":["L","C","R"],"range":["#B8B8B8","#4D6AA8","#B8B8B8"]},"legend":null}}},{"mark":"line","encoding":{"detail":{"field":"s","type":"nominal"}}}]},
    {"transform":[{"filter":"datum.k==1"}],"layer":[{"mark":"area","encoding":{"y2":{"datum":1},"fill":{"field":"s","type":"nominal","scale":{"domain":["L","C","R"],"range":["#B8B8B8","#4D6AA8","#B8B8B8"]},"legend":null}}},{"mark":"line","encoding":{"detail":{"field":"s","type":"nominal"}}}]},
    {"transform":[{"filter":"datum.k==0"}],"layer":[{"mark":"area","encoding":{"y2":{"datum":0},"fill":{"field":"s","type":"nominal","scale":{"domain":["L","C","R"],"range":["#B8B8B8","#4D6AA8","#B8B8B8"]},"legend":null}}},{"mark":"line","encoding":{"detail":{"field":"s","type":"nominal"}}}]}
   ]},
  {"data":{"values":[{}]},"mark":"rule","encoding":{"x":{"datum":0,"type":"quantitative","axis":{"orient":"top","values":[-15,-5,5,15],"grid":true,"gridWidth":0.55,"labels":false,"ticks":false,"domain":false,"title":null,"minExtent":0}}}}
 ]}
]},
{"spacing":0,"vconcat":[
 {"width":197,"height":23,"view":{"fill":"#D9D9D9"},"data":{"values":[{"t":"Lagged Tolerance"}]},"mark":"text","encoding":{"text":{"field":"t","type":"nominal"}}},
 {"width":197,"height":120,"resolve":{"axis":{"x":"independent"}},"layer":[
  {"data":{"name":"p2"},"encoding":{"x":{"field":"x","type":"quantitative","scale":{"domain":[-24.0,48.2],"nice":false,"zero":false},"axis":{"values":[-20,0,20,40],"grid":true,"gridWidth":1.1,"title":null}},"y":{"field":"y","type":"quantitative","scale":{"domain":[-0.57,5.61],"nice":false,"zero":false},"axis":{"values":[0,1,2,3,4],"labelExpr":"['Overall','Group 4','Group 3','Group 2','Group 1'][datum.value]","grid":true,"gridWidth":1.1,"title":null}}},
   "layer":[
    {"transform":[{"filter":"datum.k==4"}],"layer":[{"mark":"area","encoding":{"y2":{"datum":4},"fill":{"field":"s","type":"nominal","scale":{"domain":["L","C","R"],"range":["#B8B8B8","#4D6AA8","#B8B8B8"]},"legend":null}}},{"mark":"line","encoding":{"detail":{"field":"s","type":"nominal"}}}]},
    {"transform":[{"filter":"datum.k==3"}],"layer":[{"mark":"area","encoding":{"y2":{"datum":3},"fill":{"field":"s","type":"nominal","scale":{"domain":["L","C","R"],"range":["#B8B8B8","#4D6AA8","#B8B8B8"]},"legend":null}}},{"mark":"line","encoding":{"detail":{"field":"s","type":"nominal"}}}]},
    {"transform":[{"filter":"datum.k==2"}],"layer":[{"mark":"area","encoding":{"y2":{"datum":2},"fill":{"field":"s","type":"nominal","scale":{"domain":["L","C","R"],"range":["#B8B8B8","#4D6AA8","#B8B8B8"]},"legend":null}}},{"mark":"line","encoding":{"detail":{"field":"s","type":"nominal"}}}]},
    {"transform":[{"filter":"datum.k==1"}],"layer":[{"mark":"area","encoding":{"y2":{"datum":1},"fill":{"field":"s","type":"nominal","scale":{"domain":["L","C","R"],"range":["#B8B8B8","#4D6AA8","#B8B8B8"]},"legend":null}}},{"mark":"line","encoding":{"detail":{"field":"s","type":"nominal"}}}]},
    {"transform":[{"filter":"datum.k==0"}],"layer":[{"mark":"area","encoding":{"y2":{"datum":0},"fill":{"field":"s","type":"nominal","scale":{"domain":["L","C","R"],"range":["#B8B8B8","#4D6AA8","#B8B8B8"]},"legend":null}}},{"mark":"line","encoding":{"detail":{"field":"s","type":"nominal"}}}]}
   ]},
  {"data":{"values":[{}]},"mark":"rule","encoding":{"x":{"datum":0,"type":"quantitative","axis":{"orient":"top","values":[-10,10,30],"grid":true,"gridWidth":0.55,"labels":false,"ticks":false,"domain":false,"title":null,"minExtent":0}}}}
 ]}
]},
{"spacing":0,"vconcat":[
 {"width":197,"height":23,"view":{"fill":"#D9D9D9"},"data":{"values":[{"t":"Maternal Kin"}]},"mark":"text","encoding":{"text":{"field":"t","type":"nominal"}}},
 {"width":197,"height":120,"resolve":{"axis":{"x":"independent"}},"layer":[
  {"data":{"name":"p3"},"encoding":{"x":{"field":"x","type":"quantitative","scale":{"domain":[-36.9,26.7],"nice":false,"zero":false},"axis":{"values":[-20,0,20],"grid":true,"gridWidth":1.1,"title":null}},"y":{"field":"y","type":"quantitative","scale":{"domain":[-0.575,5.03],"nice":false,"zero":false},"axis":{"values":[0,1,2,3,4],"labelExpr":"['Overall','Group 4','Group 3','Group 2','Group 1'][datum.value]","grid":true,"gridWidth":1.1,"title":null}}},
   "layer":[
    {"transform":[{"filter":"datum.k==4"}],"layer":[{"mark":"area","encoding":{"y2":{"datum":4},"fill":{"field":"s","type":"nominal","scale":{"domain":["L","C","R"],"range":["#B8B8B8","#4D6AA8","#B8B8B8"]},"legend":null}}},{"mark":"line","encoding":{"detail":{"field":"s","type":"nominal"}}}]},
    {"transform":[{"filter":"datum.k==3"}],"layer":[{"mark":"area","encoding":{"y2":{"datum":3},"fill":{"field":"s","type":"nominal","scale":{"domain":["L","C","R"],"range":["#B8B8B8","#4D6AA8","#B8B8B8"]},"legend":null}}},{"mark":"line","encoding":{"detail":{"field":"s","type":"nominal"}}}]},
    {"transform":[{"filter":"datum.k==2"}],"layer":[{"mark":"area","encoding":{"y2":{"datum":2},"fill":{"field":"s","type":"nominal","scale":{"domain":["L","C","R"],"range":["#B8B8B8","#4D6AA8","#B8B8B8"]},"legend":null}}},{"mark":"line","encoding":{"detail":{"field":"s","type":"nominal"}}}]},
    {"transform":[{"filter":"datum.k==1"}],"layer":[{"mark":"area","encoding":{"y2":{"datum":1},"fill":{"field":"s","type":"nominal","scale":{"domain":["L","C","R"],"range":["#B8B8B8","#4D6AA8","#B8B8B8"]},"legend":null}}},{"mark":"line","encoding":{"detail":{"field":"s","type":"nominal"}}}]},
    {"transform":[{"filter":"datum.k==0"}],"layer":[{"mark":"area","encoding":{"y2":{"datum":0},"fill":{"field":"s","type":"nominal","scale":{"domain":["L","C","R"],"range":["#B8B8B8","#4D6AA8","#B8B8B8"]},"legend":null}}},{"mark":"line","encoding":{"detail":{"field":"s","type":"nominal"}}}]}
   ]},
  {"data":{"values":[{}]},"mark":"rule","encoding":{"x":{"datum":0,"type":"quantitative","axis":{"orient":"top","values":[-30,-10,10],"grid":true,"gridWidth":0.55,"labels":false,"ticks":false,"domain":false,"title":null,"minExtent":0}}}}
 ]}
]},
{"spacing":0,"vconcat":[
 {"width":197,"height":23,"view":{"fill":"#D9D9D9"},"data":{"values":[{"t":"Group Size"}]},"mark":"text","encoding":{"text":{"field":"t","type":"nominal"}}},
 {"width":197,"height":120,"resolve":{"axis":{"x":"independent"}},"layer":[
  {"data":{"name":"p4"},"encoding":{"x":{"field":"x","type":"quantitative","scale":{"domain":[-1.59,1.68],"nice":false,"zero":false},"axis":{"values":[-1,0,1],"grid":true,"gridWidth":1.1,"title":null}},"y":{"field":"y","type":"quantitative","scale":{"domain":[-0.56,4.59],"nice":false,"zero":false},"axis":{"values":[0,1,2,3,4],"labelExpr":"['Overall','Group 4','Group 3','Group 2','Group 1'][datum.value]","grid":true,"gridWidth":1.1,"title":null}}},
   "layer":[
    {"transform":[{"filter":"datum.k==4"}],"layer":[{"mark":"area","encoding":{"y2":{"datum":4},"fill":{"field":"s","type":"nominal","scale":{"domain":["L","C","R"],"range":["#B8B8B8","#4D6AA8","#B8B8B8"]},"legend":null}}},{"mark":"line","encoding":{"detail":{"field":"s","type":"nominal"}}}]},
    {"transform":[{"filter":"datum.k==3"}],"layer":[{"mark":"area","encoding":{"y2":{"datum":3},"fill":{"field":"s","type":"nominal","scale":{"domain":["L","C","R"],"range":["#B8B8B8","#4D6AA8","#B8B8B8"]},"legend":null}}},{"mark":"line","encoding":{"detail":{"field":"s","type":"nominal"}}}]},
    {"transform":[{"filter":"datum.k==2"}],"layer":[{"mark":"area","encoding":{"y2":{"datum":2},"fill":{"field":"s","type":"nominal","scale":{"domain":["L","C","R"],"range":["#B8B8B8","#4D6AA8","#B8B8B8"]},"legend":null}}},{"mark":"line","encoding":{"detail":{"field":"s","type":"nominal"}}}]},
    {"transform":[{"filter":"datum.k==1"}],"layer":[{"mark":"area","encoding":{"y2":{"datum":1},"fill":{"field":"s","type":"nominal","scale":{"domain":["L","C","R"],"range":["#B8B8B8","#4D6AA8","#B8B8B8"]},"legend":null}}},{"mark":"line","encoding":{"detail":{"field":"s","type":"nominal"}}}]},
    {"transform":[{"filter":"datum.k==0"}],"layer":[{"mark":"area","encoding":{"y2":{"datum":0},"fill":{"field":"s","type":"nominal","scale":{"domain":["L","C","R"],"range":["#B8B8B8","#4D6AA8","#B8B8B8"]},"legend":null}}},{"mark":"line","encoding":{"detail":{"field":"s","type":"nominal"}}}]}
   ]},
  {"data":{"values":[{}]},"mark":"rule","encoding":{"x":{"datum":0,"type":"quantitative","axis":{"orient":"top","values":[-1.5,-0.5,0.5,1.5],"grid":true,"gridWidth":0.55,"labels":false,"ticks":false,"domain":false,"title":null,"minExtent":0}}}}
 ]}
]},
{"spacing":0,"vconcat":[
 {"width":197,"height":23,"view":{"fill":"#D9D9D9"},"data":{"values":[{"t":"Infants (<3 years)"}]},"mark":"text","encoding":{"text":{"field":"t","type":"nominal"}}},
 {"width":197,"height":120,"resolve":{"axis":{"x":"independent"}},"layer":[
  {"data":{"name":"p5"},"encoding":{"x":{"field":"x","type":"quantitative","scale":{"domain":[-44.4,27.2],"nice":false,"zero":false},"axis":{"values":[-40,-20,0,20],"grid":true,"gridWidth":1.1,"title":null}},"y":{"field":"y","type":"quantitative","scale":{"domain":[-0.58,5.55],"nice":false,"zero":false},"axis":{"values":[0,1,2,3,4],"labelExpr":"['Overall','Group 4','Group 3','Group 2','Group 1'][datum.value]","grid":true,"gridWidth":1.1,"title":null}}},
   "layer":[
    {"transform":[{"filter":"datum.k==4"}],"layer":[{"mark":"area","encoding":{"y2":{"datum":4},"fill":{"field":"s","type":"nominal","scale":{"domain":["L","C","R"],"range":["#B8B8B8","#4D6AA8","#B8B8B8"]},"legend":null}}},{"mark":"line","encoding":{"detail":{"field":"s","type":"nominal"}}}]},
    {"transform":[{"filter":"datum.k==3"}],"layer":[{"mark":"area","encoding":{"y2":{"datum":3},"fill":{"field":"s","type":"nominal","scale":{"domain":["L","C","R"],"range":["#B8B8B8","#4D6AA8","#B8B8B8"]},"legend":null}}},{"mark":"line","encoding":{"detail":{"field":"s","type":"nominal"}}}]},
    {"transform":[{"filter":"datum.k==2"}],"layer":[{"mark":"area","encoding":{"y2":{"datum":2},"fill":{"field":"s","type":"nominal","scale":{"domain":["L","C","R"],"range":["#B8B8B8","#4D6AA8","#B8B8B8"]},"legend":null}}},{"mark":"line","encoding":{"detail":{"field":"s","type":"nominal"}}}]},
    {"transform":[{"filter":"datum.k==1"}],"layer":[{"mark":"area","encoding":{"y2":{"datum":1},"fill":{"field":"s","type":"nominal","scale":{"domain":["L","C","R"],"range":["#B8B8B8","#4D6AA8","#B8B8B8"]},"legend":null}}},{"mark":"line","encoding":{"detail":{"field":"s","type":"nominal"}}}]},
    {"transform":[{"filter":"datum.k==0"}],"layer":[{"mark":"area","encoding":{"y2":{"datum":0},"fill":{"field":"s","type":"nominal","scale":{"domain":["L","C","R"],"range":["#B8B8B8","#4D6AA8","#B8B8B8"]},"legend":null}}},{"mark":"line","encoding":{"detail":{"field":"s","type":"nominal"}}}]}
   ]},
  {"data":{"values":[{}]},"mark":"rule","encoding":{"x":{"datum":0,"type":"quantitative","axis":{"orient":"top","values":[-30,-10,10],"grid":true,"gridWidth":0.55,"labels":false,"ticks":false,"domain":false,"title":null,"minExtent":0}}}}
 ]}
]},
{"spacing":0,"vconcat":[
 {"width":197,"height":23,"view":{"fill":"#D9D9D9"},"data":{"values":[{"t":"Infants (3−5 years)"}]},"mark":"text","encoding":{"text":{"field":"t","type":"nominal"}}},
 {"width":197,"height":120,"resolve":{"axis":{"x":"independent"}},"layer":[
  {"data":{"name":"p6"},"encoding":{"x":{"field":"x","type":"quantitative","scale":{"domain":[-31.0,22.5],"nice":false,"zero":false},"axis":{"values":[-30,-20,-10,0,10,20],"grid":true,"gridWidth":1.1,"title":null}},"y":{"field":"y","type":"quantitative","scale":{"domain":[-0.58,5.62],"nice":false,"zero":false},"axis":{"values":[0,1,2,3,4],"labelExpr":"['Overall','Group 4','Group 3','Group 2','Group 1'][datum.value]","grid":true,"gridWidth":1.1,"title":null}}},
   "layer":[
    {"transform":[{"filter":"datum.k==4"}],"layer":[{"mark":"area","encoding":{"y2":{"datum":4},"fill":{"field":"s","type":"nominal","scale":{"domain":["L","C","R"],"range":["#B8B8B8","#4D6AA8","#B8B8B8"]},"legend":null}}},{"mark":"line","encoding":{"detail":{"field":"s","type":"nominal"}}}]},
    {"transform":[{"filter":"datum.k==3"}],"layer":[{"mark":"area","encoding":{"y2":{"datum":3},"fill":{"field":"s","type":"nominal","scale":{"domain":["L","C","R"],"range":["#B8B8B8","#4D6AA8","#B8B8B8"]},"legend":null}}},{"mark":"line","encoding":{"detail":{"field":"s","type":"nominal"}}}]},
    {"transform":[{"filter":"datum.k==2"}],"layer":[{"mark":"area","encoding":{"y2":{"datum":2},"fill":{"field":"s","type":"nominal","scale":{"domain":["L","C","R"],"range":["#B8B8B8","#4D6AA8","#B8B8B8"]},"legend":null}}},{"mark":"line","encoding":{"detail":{"field":"s","type":"nominal"}}}]},
    {"transform":[{"filter":"datum.k==1"}],"layer":[{"mark":"area","encoding":{"y2":{"datum":1},"fill":{"field":"s","type":"nominal","scale":{"domain":["L","C","R"],"range":["#B8B8B8","#4D6AA8","#B8B8B8"]},"legend":null}}},{"mark":"line","encoding":{"detail":{"field":"s","type":"nominal"}}}]},
    {"transform":[{"filter":"datum.k==0"}],"layer":[{"mark":"area","encoding":{"y2":{"datum":0},"fill":{"field":"s","type":"nominal","scale":{"domain":["L","C","R"],"range":["#B8B8B8","#4D6AA8","#B8B8B8"]},"legend":null}}},{"mark":"line","encoding":{"detail":{"field":"s","type":"nominal"}}}]}
   ]},
  {"data":{"values":[{}]},"mark":"rule","encoding":{"x":{"datum":0,"type":"quantitative","axis":{"orient":"top","values":[-25,-15,-5,5,15],"grid":true,"gridWidth":0.55,"labels":false,"ticks":false,"domain":false,"title":null,"minExtent":0}}}}
 ]}
]},
{"spacing":0,"vconcat":[
 {"width":197,"height":23,"view":{"fill":"#D9D9D9"},"data":{"values":[{"t":"Females (5−12 years)"}]},"mark":"text","encoding":{"text":{"field":"t","type":"nominal"}}},
 {"width":197,"height":120,"resolve":{"axis":{"x":"independent"}},"layer":[
  {"data":{"name":"p7"},"encoding":{"x":{"field":"x","type":"quantitative","scale":{"domain":[-17.2,26.2],"nice":false,"zero":false},"axis":{"values":[-10,0,10,20],"grid":true,"gridWidth":1.1,"title":null}},"y":{"field":"y","type":"quantitative","scale":{"domain":[-0.57,5.5],"nice":false,"zero":false},"axis":{"values":[0,1,2,3,4],"labelExpr":"['Overall','Group 4','Group 3','Group 2','Group 1'][datum.value]","grid":true,"gridWidth":1.1,"title":null}}},
   "layer":[
    {"transform":[{"filter":"datum.k==4"}],"layer":[{"mark":"area","encoding":{"y2":{"datum":4},"fill":{"field":"s","type":"nominal","scale":{"domain":["L","C","R"],"range":["#B8B8B8","#4D6AA8","#B8B8B8"]},"legend":null}}},{"mark":"line","encoding":{"detail":{"field":"s","type":"nominal"}}}]},
    {"transform":[{"filter":"datum.k==3"}],"layer":[{"mark":"area","encoding":{"y2":{"datum":3},"fill":{"field":"s","type":"nominal","scale":{"domain":["L","C","R"],"range":["#B8B8B8","#4D6AA8","#B8B8B8"]},"legend":null}}},{"mark":"line","encoding":{"detail":{"field":"s","type":"nominal"}}}]},
    {"transform":[{"filter":"datum.k==2"}],"layer":[{"mark":"area","encoding":{"y2":{"datum":2},"fill":{"field":"s","type":"nominal","scale":{"domain":["L","C","R"],"range":["#B8B8B8","#4D6AA8","#B8B8B8"]},"legend":null}}},{"mark":"line","encoding":{"detail":{"field":"s","type":"nominal"}}}]},
    {"transform":[{"filter":"datum.k==1"}],"layer":[{"mark":"area","encoding":{"y2":{"datum":1},"fill":{"field":"s","type":"nominal","scale":{"domain":["L","C","R"],"range":["#B8B8B8","#4D6AA8","#B8B8B8"]},"legend":null}}},{"mark":"line","encoding":{"detail":{"field":"s","type":"nominal"}}}]},
    {"transform":[{"filter":"datum.k==0"}],"layer":[{"mark":"area","encoding":{"y2":{"datum":0},"fill":{"field":"s","type":"nominal","scale":{"domain":["L","C","R"],"range":["#B8B8B8","#4D6AA8","#B8B8B8"]},"legend":null}}},{"mark":"line","encoding":{"detail":{"field":"s","type":"nominal"}}}]}
   ]},
  {"data":{"values":[{}]},"mark":"rule","encoding":{"x":{"datum":0,"type":"quantitative","axis":{"orient":"top","values":[-15,-5,5,15,25],"grid":true,"gridWidth":0.55,"labels":false,"ticks":false,"domain":false,"title":null,"minExtent":0}}}}
 ]}
]},
{"spacing":0,"vconcat":[
 {"width":197,"height":23,"view":{"fill":"#D9D9D9"},"data":{"values":[{"t":"Males (5−15 years)"}]},"mark":"text","encoding":{"text":{"field":"t","type":"nominal"}}},
 {"width":197,"height":120,"resolve":{"axis":{"x":"independent"}},"layer":[
  {"data":{"name":"p8"},"encoding":{"x":{"field":"x","type":"quantitative","scale":{"domain":[-26.7,55.3],"nice":false,"zero":false},"axis":{"values":[-20,0,20,40],"grid":true,"gridWidth":1.1,"title":"Parameter value"}},"y":{"field":"y","type":"quantitative","scale":{"domain":[-0.57,5.44],"nice":false,"zero":false},"axis":{"values":[0,1,2,3,4],"labelExpr":"['Overall','Group 4','Group 3','Group 2','Group 1'][datum.value]","grid":true,"gridWidth":1.1,"title":null}}},
   "layer":[
    {"transform":[{"filter":"datum.k==4"}],"layer":[{"mark":"area","encoding":{"y2":{"datum":4},"fill":{"field":"s","type":"nominal","scale":{"domain":["L","C","R"],"range":["#B8B8B8","#4D6AA8","#B8B8B8"]},"legend":null}}},{"mark":"line","encoding":{"detail":{"field":"s","type":"nominal"}}}]},
    {"transform":[{"filter":"datum.k==3"}],"layer":[{"mark":"area","encoding":{"y2":{"datum":3},"fill":{"field":"s","type":"nominal","scale":{"domain":["L","C","R"],"range":["#B8B8B8","#4D6AA8","#B8B8B8"]},"legend":null}}},{"mark":"line","encoding":{"detail":{"field":"s","type":"nominal"}}}]},
    {"transform":[{"filter":"datum.k==2"}],"layer":[{"mark":"area","encoding":{"y2":{"datum":2},"fill":{"field":"s","type":"nominal","scale":{"domain":["L","C","R"],"range":["#B8B8B8","#4D6AA8","#B8B8B8"]},"legend":null}}},{"mark":"line","encoding":{"detail":{"field":"s","type":"nominal"}}}]},
    {"transform":[{"filter":"datum.k==1"}],"layer":[{"mark":"area","encoding":{"y2":{"datum":1},"fill":{"field":"s","type":"nominal","scale":{"domain":["L","C","R"],"range":["#B8B8B8","#4D6AA8","#B8B8B8"]},"legend":null}}},{"mark":"line","encoding":{"detail":{"field":"s","type":"nominal"}}}]},
    {"transform":[{"filter":"datum.k==0"}],"layer":[{"mark":"area","encoding":{"y2":{"datum":0},"fill":{"field":"s","type":"nominal","scale":{"domain":["L","C","R"],"range":["#B8B8B8","#4D6AA8","#B8B8B8"]},"legend":null}}},{"mark":"line","encoding":{"detail":{"field":"s","type":"nominal"}}}]}
   ]},
  {"data":{"values":[{}]},"mark":"rule","encoding":{"x":{"datum":0,"type":"quantitative","axis":{"orient":"top","values":[-10,10,30,50],"grid":true,"gridWidth":0.55,"labels":false,"ticks":false,"domain":false,"title":null,"minExtent":0}}}}
 ]}
]},
{"spacing":0,"vconcat":[
 {"width":197,"height":23,"view":{"fill":"#D9D9D9"},"data":{"values":[{"t":"Females (>13 years)"}]},"mark":"text","encoding":{"text":{"field":"t","type":"nominal"}}},
 {"width":197,"height":120,"resolve":{"axis":{"x":"independent"}},"layer":[
  {"data":{"name":"p9"},"encoding":{"x":{"field":"x","type":"quantitative","scale":{"domain":[-38.7,27.8],"nice":false,"zero":false},"axis":{"values":[-20,0,20],"grid":true,"gridWidth":1.1,"title":null}},"y":{"field":"y","type":"quantitative","scale":{"domain":[-0.6,4.91],"nice":false,"zero":false},"axis":{"values":[0,1,2,3,4],"labelExpr":"['Overall','Group 4','Group 3','Group 2','Group 1'][datum.value]","grid":true,"gridWidth":1.1,"title":null}}},
   "layer":[
    {"transform":[{"filter":"datum.k==4"}],"layer":[{"mark":"area","encoding":{"y2":{"datum":4},"fill":{"field":"s","type":"nominal","scale":{"domain":["L","C","R"],"range":["#B8B8B8","#4D6AA8","#B8B8B8"]},"legend":null}}},{"mark":"line","encoding":{"detail":{"field":"s","type":"nominal"}}}]},
    {"transform":[{"filter":"datum.k==3"}],"layer":[{"mark":"area","encoding":{"y2":{"datum":3},"fill":{"field":"s","type":"nominal","scale":{"domain":["L","C","R"],"range":["#B8B8B8","#4D6AA8","#B8B8B8"]},"legend":null}}},{"mark":"line","encoding":{"detail":{"field":"s","type":"nominal"}}}]},
    {"transform":[{"filter":"datum.k==2"}],"layer":[{"mark":"area","encoding":{"y2":{"datum":2},"fill":{"field":"s","type":"nominal","scale":{"domain":["L","C","R"],"range":["#B8B8B8","#4D6AA8","#B8B8B8"]},"legend":null}}},{"mark":"line","encoding":{"detail":{"field":"s","type":"nominal"}}}]},
    {"transform":[{"filter":"datum.k==1"}],"layer":[{"mark":"area","encoding":{"y2":{"datum":1},"fill":{"field":"s","type":"nominal","scale":{"domain":["L","C","R"],"range":["#B8B8B8","#4D6AA8","#B8B8B8"]},"legend":null}}},{"mark":"line","encoding":{"detail":{"field":"s","type":"nominal"}}}]},
    {"transform":[{"filter":"datum.k==0"}],"layer":[{"mark":"area","encoding":{"y2":{"datum":0},"fill":{"field":"s","type":"nominal","scale":{"domain":["L","C","R"],"range":["#B8B8B8","#4D6AA8","#B8B8B8"]},"legend":null}}},{"mark":"line","encoding":{"detail":{"field":"s","type":"nominal"}}}]}
   ]},
  {"data":{"values":[{}]},"mark":"rule","encoding":{"x":{"datum":0,"type":"quantitative","axis":{"orient":"top","values":[-30,-10,10],"grid":true,"gridWidth":0.55,"labels":false,"ticks":false,"domain":false,"title":null,"minExtent":0}}}}
 ]}
]}
]
}
